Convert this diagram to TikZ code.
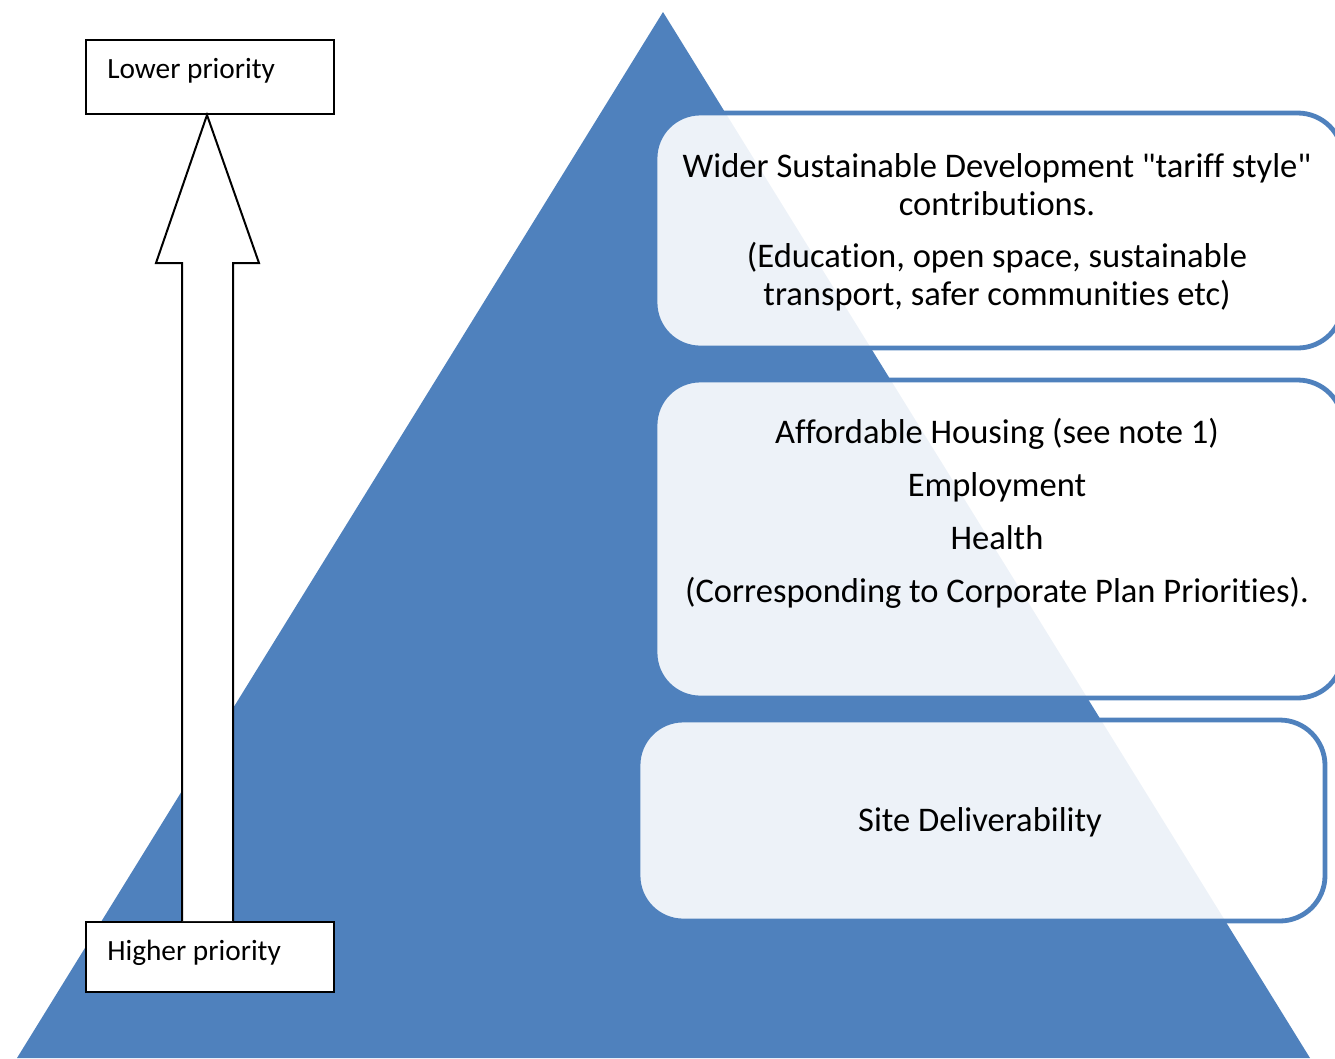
\documentclass[tikz,border=0pt]{standalone}
\usepackage{fontspec}
\setmainfont{Carlito}[Ligatures={NoCommon,TeXOff}]
\usetikzlibrary{calc}
\definecolor{triblue}{HTML}{4F81BD}
\begin{document}
\begin{tikzpicture}[x=0.75pt,y=-0.75pt,
  tier/.style={draw=triblue,line width=3.6pt,fill=white,fill opacity=0.9,rounded corners=34pt},
  prio/.style={draw=black,line width=1.5pt,fill=white,rectangle,inner sep=0pt},
  big/.style={font=\fontsize{25.9}{31}\selectfont,anchor=base,inner sep=0pt},
  small/.style={font=\fontsize{22}{27}\selectfont,anchor=base west,inner sep=0pt},
  arrowshape/.style={draw=black,line width=1.5pt,fill=white,line join=miter}]
\useasboundingbox (0,0) rectangle (1335,1058);
% pyramid
\fill[triblue] (663,12) -- (1310,1058) -- (17,1058) -- cycle;
% tiers
\path[tier] (655,113) rectangle (1343,348);
\path[tier] (655,380) rectangle (1343,698);
\path[tier] (638,720) rectangle (1325,921);
% tier texts
\node[big] (t1a) at (997,177) {Wider Sustainable Development "tariff style"};
\node[big] (t1b) at (997,215) {contributions.};
\node[big] (t1c) at (997,267) {(Education, open space, sustainable};
\node[big] (t1d) at (997,305) {transport, safer communities etc)};
\node[big] (t2a) at (997,443) {Affordable Housing (see note 1)};
\node[big] (t2b) at (997,496) {Employment};
\node[big] (t2c) at (997,549) {Health};
\node[big] (t2d) at (997,602) {(Corresponding to Corporate Plan Priorities).};
\node[big] (t3a) at (980,831) {Site Deliverability};
% priority boxes
\node[prio,minimum width=186pt,minimum height=55.5pt] (lo) at (210,77) {};
\node[prio,minimum width=186pt,minimum height=52.5pt] (hi) at (210,957) {};
\node[small] (lot) at (107,78) {Lower priority};
\node[small] (hit) at (107,960) {Higher priority};
% arrow
\draw[arrowshape] ($(hi.north)+(-28,0)$) -- ++(0,-658) -- ++(-26,0)
  -- ($(lo.south)+(-3,0)$) -- ($(hi.north)+(49,-658)$) -- ++(-26,0) -- ($(hi.north)+(23,0)$);
\end{tikzpicture}
\end{document}
